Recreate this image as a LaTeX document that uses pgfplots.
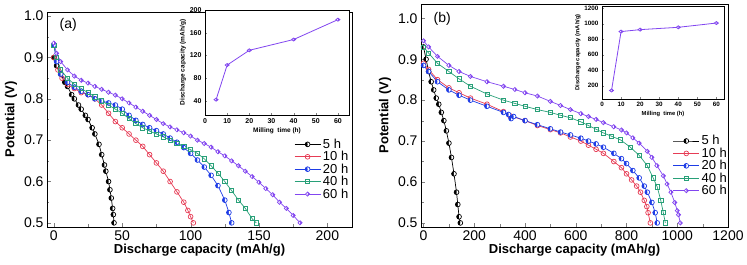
\documentclass[border=0pt]{standalone}
\usepackage{fontspec}
\setmainfont{Liberation Sans}
\usepackage{pgfplots}
\pgfplotsset{compat=1.18}
\usetikzlibrary{plotmarks}
\definecolor{cR}{RGB}{230,60,85}
\definecolor{cB}{RGB}{30,60,230}
\definecolor{cG}{RGB}{40,160,120}
\definecolor{cP}{RGB}{130,70,240}
\pgfplotsset{
  main/.style={scale only axis, anchor=south west,
    tick align=inside, xtick pos=bottom, ytick pos=left,
    /pgf/number format/assume math mode=true,
    /pgf/number format/1000 sep={},
    ticklabel style={font=\fontsize{14}{16}\selectfont},
    label style={font=\bfseries\fontsize{13}{15}\selectfont},
    ytick={0.5,0.6,0.7,0.8,0.9,1.0},
    yticklabel style={/pgf/number format/.cd, fixed, fixed zerofill, precision=1},
    minor y tick num=1, minor x tick num=1,
    major tick length=4pt, minor tick length=2.5pt,
    xlabel={Discharge capacity (mAh/g)}, ylabel={Potential (V)},
    legend cell align=left,
    legend style={draw=none, fill=none, font=\fontsize{13}{15}\selectfont, row sep=-2.5pt, inner sep=0pt},
    legend image code/.code={\draw[mark repeat=2,mark phase=2,#1] plot coordinates {(0pt,0pt)(13pt,0pt)(26pt,0pt)};},
    every axis plot/.append style={line width=0.7pt, mark size=2.4pt},
  },
  inset/.style={scale only axis, anchor=south west,
    tick align=inside, xtick pos=bottom, ytick pos=left,
    /pgf/number format/assume math mode=true,
    /pgf/number format/1000 sep={},
    ticklabel style={font=\bfseries\fontsize{7}{8}\selectfont},
    label style={font=\bfseries\fontsize{6.5}{7}\selectfont},
    xtick={0,10,20,30,40,50,60},
    major tick length=2pt, minor tick length=1pt,
    xlabel={Milling\ \ time (h)}, ylabel={Discharge capacity (mAh/g)},
    axis background/.style={fill=white},
    xlabel style={yshift=3pt}, ylabel style={yshift=-3pt},
  },
  s5/.style={black, mark=halfcircle*, mark options={fill=black, rotate=90}},
  s10/.style={cR, mark=o},
  s20/.style={cB, mark=halfcircle*, mark options={fill=cB, rotate=90}},
  s40/.style={cG, mark=square, mark size=2.1pt},
  s60/.style={cP, mark=halfsquare*, mark options={fill=cP, rotate=90}, mark size=2.1pt},
}
\begin{document}
\begin{tikzpicture}[x=1pt,y=1pt]
\useasboundingbox (0,0) rectangle (747,265);
% ---------- panel (a) ----------
\begin{axis}[main, at={(47pt,38pt)}, width=305pt, height=215pt,
  xmin=-5, xmax=218, ymin=0.49, ymax=1.01,
  xtick={0,50,100,150,200},
  legend style={at={(0.81,0.42)}, anchor=north west},
  ylabel style={yshift=0pt}, xlabel style={yshift=3pt}]
\addplot[s5] coordinates {(0,0.90)(2,0.88)(5,0.86)(8,0.84)(10,0.83)(13,0.81)(15,0.80)(18,0.785)(20,0.775)(23,0.76)(25,0.75)(28,0.73)(30,0.715)(33,0.69)(35,0.665)(37,0.64)(38,0.625)(40,0.60)(41,0.58)(42,0.56)(43,0.535)(43.5,0.52)(44,0.50)};
\addlegendentry{5 h}
\addplot[s10] coordinates {(0,0.90)(3,0.87)(6,0.85)(10,0.835)(15,0.825)(20,0.815)(25,0.81)(30,0.80)(35,0.785)(40,0.765)(45,0.745)(50,0.73)(55,0.715)(60,0.70)(65,0.685)(70,0.665)(75,0.645)(80,0.625)(85,0.60)(90,0.575)(95,0.55)(98,0.53)(100,0.515)(102,0.50)};
\addlegendentry{10 h}
\addplot[s20] coordinates {(0,0.93)(2,0.89)(5,0.86)(10,0.84)(15,0.828)(20,0.818)(25,0.81)(30,0.80)(35,0.795)(40,0.79)(45,0.785)(50,0.775)(55,0.76)(60,0.748)(65,0.738)(70,0.73)(75,0.723)(80,0.715)(85,0.705)(90,0.695)(95,0.682)(100,0.668)(105,0.652)(110,0.635)(115,0.615)(120,0.59)(125,0.555)(128,0.525)(130,0.50)};
\addlegendentry{20 h}
\addplot[s40] coordinates {(0,0.93)(2,0.90)(5,0.87)(10,0.85)(15,0.835)(20,0.825)(25,0.815)(30,0.805)(35,0.795)(40,0.785)(45,0.775)(50,0.765)(55,0.752)(60,0.74)(65,0.73)(70,0.722)(75,0.715)(80,0.708)(85,0.70)(90,0.692)(95,0.685)(100,0.677)(105,0.668)(110,0.655)(115,0.638)(120,0.62)(125,0.60)(130,0.578)(135,0.555)(140,0.535)(145,0.51)(148,0.50)};
\addlegendentry{40 h}
\addplot[s60] coordinates {(0,0.935)(2,0.91)(5,0.89)(10,0.87)(15,0.855)(20,0.845)(25,0.838)(30,0.83)(35,0.823)(40,0.816)(45,0.809)(50,0.80)(55,0.79)(60,0.78)(65,0.77)(70,0.76)(75,0.75)(80,0.74)(85,0.732)(90,0.725)(95,0.718)(100,0.71)(105,0.70)(110,0.692)(115,0.683)(120,0.672)(125,0.662)(130,0.65)(135,0.638)(140,0.625)(145,0.612)(150,0.598)(155,0.583)(160,0.568)(165,0.55)(170,0.535)(175,0.518)(180,0.50)};
\addlegendentry{60 h}
\node[font=\fontsize{14}{16}\selectfont, anchor=west] at (rel axis cs:0.03,0.94) {(a)};
\end{axis}
\begin{axis}[inset, at={(205pt,150pt)}, width=144pt, height=105pt,
  xmin=0, xmax=65, ymin=15, ymax=200, ytick={40,80,120,160,200}]
\addplot[cP, line width=0.8pt, mark=halfdiamond*, mark size=2pt, mark options={fill=cP, rotate=90}] coordinates {(5,42)(10,103)(20,129)(40,148)(60,183)};
\end{axis}
% ---------- panel (b) ----------
\begin{axis}[main, at={(421pt,38pt)}, width=307pt, height=223pt,
  xmin=-10, xmax=1200, ymin=0.49, ymax=1.035,
  xtick={0,200,400,600,800,1000,1200},
  legend style={at={(0.82,0.42)}, anchor=north west},
  ylabel style={yshift=0pt}, xlabel style={yshift=3pt}]
\addplot[s5] coordinates {(0,0.93)(10,0.90)(20,0.87)(30,0.845)(40,0.825)(50,0.805)(60,0.79)(70,0.77)(80,0.75)(90,0.725)(100,0.695)(110,0.66)(120,0.62)(130,0.575)(135,0.545)(140,0.515)(145,0.50)};
\addlegendentry{5 h}
\addplot[s10] coordinates {(0,0.89)(20,0.875)(55,0.85)(100,0.83)(140,0.818)(185,0.805)(250,0.79)(315,0.772)(340,0.762)(400,0.75)(449,0.738)(500,0.728)(540,0.72)(579,0.71)(620,0.70)(650,0.69)(680,0.68)(709,0.67)(750,0.65)(780,0.635)(800,0.62)(820,0.605)(840,0.59)(855,0.575)(870,0.555)(880,0.54)(885,0.525)(894,0.50)};
\addlegendentry{10 h}
\addplot[s20] coordinates {(0,0.885)(20,0.87)(55,0.845)(100,0.825)(140,0.812)(185,0.80)(250,0.785)(315,0.77)(335,0.765)(345,0.755)(355,0.76)(400,0.75)(449,0.74)(500,0.73)(540,0.722)(579,0.715)(620,0.707)(650,0.70)(680,0.693)(709,0.685)(750,0.67)(780,0.657)(800,0.645)(825,0.628)(850,0.61)(870,0.59)(882,0.575)(900,0.55)(913,0.525)(921,0.50)};
\addlegendentry{20 h}
\addplot[s40] coordinates {(0,0.93)(20,0.915)(55,0.89)(100,0.87)(140,0.852)(185,0.834)(250,0.815)(315,0.80)(360,0.792)(400,0.785)(449,0.777)(500,0.77)(540,0.763)(579,0.757)(620,0.747)(650,0.738)(680,0.729)(709,0.72)(740,0.712)(776,0.703)(815,0.685)(850,0.665)(882,0.64)(905,0.61)(921,0.588)(935,0.555)(945,0.525)(953,0.50)};
\addlegendentry{40 h}
\addplot[s60] coordinates {(0,0.945)(20,0.93)(55,0.907)(100,0.885)(140,0.87)(185,0.858)(250,0.845)(315,0.834)(360,0.826)(400,0.818)(449,0.81)(500,0.797)(540,0.787)(579,0.777)(620,0.767)(650,0.76)(680,0.753)(709,0.745)(750,0.735)(780,0.727)(800,0.72)(825,0.708)(850,0.695)(882,0.675)(900,0.66)(920,0.64)(945,0.615)(960,0.595)(975,0.575)(990,0.55)(1000,0.53)(1005,0.52)(1012,0.50)};
\addlegendentry{60 h}
\node[font=\fontsize{14}{16}\selectfont, anchor=west] at (rel axis cs:0.03,0.935) {(b)};
\end{axis}
\begin{axis}[inset, at={(602pt,166pt)}, width=122pt, height=93pt,
  xmin=0, xmax=64, ymin=30, ymax=1230, ytick={200,400,600,800,1000,1200},
  ticklabel style={font=\bfseries\fontsize{6.3}{7}\selectfont},
  label style={font=\bfseries\fontsize{5.8}{6.5}\selectfont}]
\addplot[cP, line width=0.8pt, mark=halfdiamond*, mark size=2pt, mark options={fill=cP, rotate=90}] coordinates {(5,140)(10,900)(20,925)(40,955)(60,1010)};
\end{axis}
\end{tikzpicture}
\end{document}
